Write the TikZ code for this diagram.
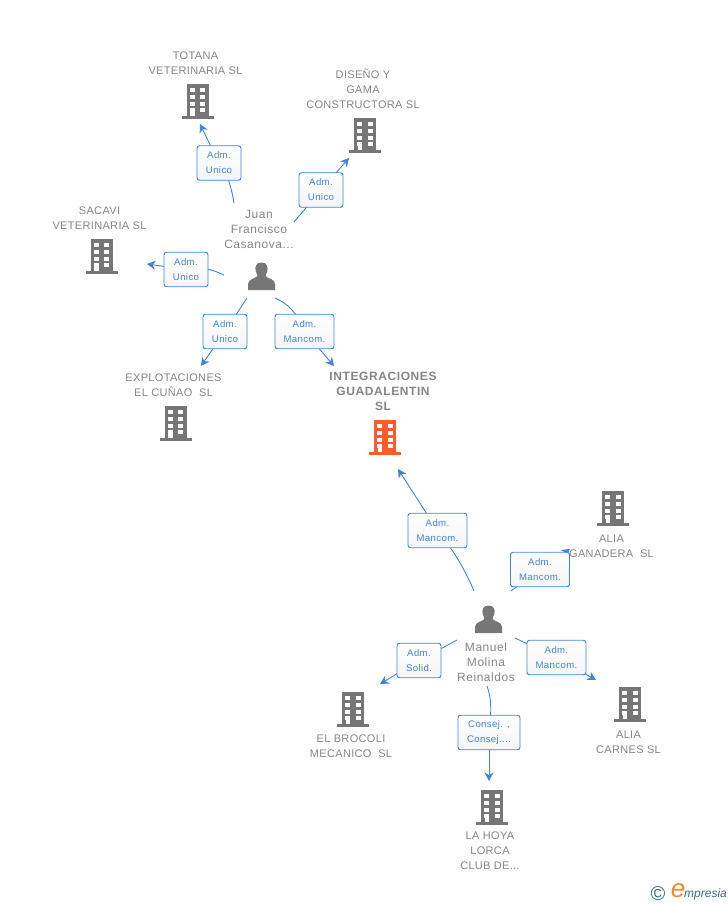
\documentclass[tikz,border=0pt]{standalone}
\usepackage{fontspec}
\setmainfont{Liberation Sans}
\usetikzlibrary{arrows.meta,backgrounds}
\definecolor{edgeblue}{HTML}{3F85DC}
\definecolor{txtgray}{HTML}{858585}
\definecolor{icongray}{HTML}{767676}
\definecolor{accent}{HTML}{FF5A2B}
\definecolor{logoteal}{HTML}{2F6F86}
\definecolor{logoorange}{HTML}{F08A24}
\tikzset{
  x=1pt,y=-1pt,
  lab/.style={draw=edgeblue,line width=0.95pt,rounded corners=2.5pt,top color=white,bottom color=white!96!black,
    text=edgeblue,font=\fontsize{9.6}{15}\selectfont\addfontfeatures{LetterSpace=4},align=center,minimum height=34.5pt,inner sep=0pt},
  labs/.style={lab,minimum width=44pt},
  labm/.style={lab,minimum width=59pt},
  labc/.style={lab,minimum width=62pt},
  edge/.style={edgeblue,line width=0.9pt},
  arr/.style={edge,-{Stealth[length=8.5pt,width=9pt]}},
  cname/.style={text=txtgray,font=\fontsize{11}{15}\selectfont\addfontfeatures{LetterSpace=3},align=center,inner sep=0pt},
  pname/.style={cname,font=\fontsize{12}{15}\selectfont\addfontfeatures{LetterSpace=4.5}},
  mainname/.style={cname,font=\fontsize{12}{15}\selectfont\bfseries\addfontfeatures{LetterSpace=5}},
  pics/bld/.style={code={
    \fill[#1] (-11,-17) rectangle (11,15);
    \fill[#1] (-16,15) rectangle (16,17.5);
    \foreach \yy in {-12.7,-6,0.7,7.3}{
      \fill[white] (-8,\yy) rectangle (-3,\yy+4);
      \fill[white] (2.5,\yy) rectangle (7.5,\yy+4);
    }
    \fill[white] (-7.5,7) rectangle (-3,15);
  }},
  pics/person/.style={code={
    \fill[icongray] (0,-14.5) .. controls (-5.5,-14.5) and (-6.8,-10) .. (-5.8,-6)
      .. controls (-5.2,-3) and (-4,-2.5) .. (-4,-1)
      .. controls (-6,1.5) and (-13.5,2) .. (-13.5,7) -- (-13.5,13) -- (13.5,13) -- (13.5,7)
      .. controls (13.5,2) and (6,1.5) .. (4,-1)
      .. controls (4,-2.5) and (5.2,-3) .. (5.8,-6)
      .. controls (6.8,-10) and (5.5,-14.5) .. (0,-14.5) -- cycle;
  }}
}
\begin{document}
\begin{tikzpicture}
\useasboundingbox (0,0) rectangle (728,905);
% people
\pic at (261.5,277) {person};
\pic at (488.5,620) {person};
\node[pname] (juan) at (259,229) {Juan\\Francisco\\Casanova...};
\node[pname] (manuel) at (486,662) {Manuel\\Molina\\Reinaldos};
% companies
\node[cname] (totana) at (195.5,63) {TOTANA\\VETERINARIA SL};
\pic at (197.5,101) {bld=icongray};
\node[cname] (diseno) at (363,89) {DISEÑO Y\\GAMA\\CONSTRUCTORA SL};
\pic at (365,135) {bld=icongray};
\node[cname] (sacavi) at (99.5,218) {SACAVI\\VETERINARIA SL};
\pic at (101.5,256) {bld=icongray};
\node[cname] (explo) at (173.5,385) {EXPLOTACIONES\\EL CUÑAO\ \ SL};
\pic at (175.5,423) {bld=icongray};
\node[mainname] (integ) at (383,391.5) {INTEGRACIONES\\GUADALENTIN\\SL};
\pic at (385,437) {bld=accent};
\node[cname] (galia) at (611.5,546) {ALIA\\GANADERA\ \ SL};
\pic at (613,508) {bld=icongray};
\node[cname] (broco) at (351,746) {EL BROCOLI\\MECANICO\ \ SL};
\pic at (353,709) {bld=icongray};
\node[cname] (carnes) at (628.5,742) {ALIA\\CARNES SL};
\pic at (630,704) {bld=icongray};
\node[cname] (hoya) at (490,851) {LA HOYA\\LORCA\\CLUB DE...};
\pic at (492,807) {bld=icongray};
% relation labels
\node[labs] (l1) at (219,163) {Adm.\\Unico};
\node[labs] (l2) at (321,190) {Adm.\\Unico};
\node[labs] (l3) at (186,269.5) {Adm.\\Unico};
\node[labs] (l4) at (225,331.5) {Adm.\\Unico};
\node[labm] (l5) at (304.5,331.5) {Adm.\\Mancom.};
\node[labm] (l6) at (437.5,530.5) {Adm.\\Mancom.};
\node[labm] (l7) at (540,569.5) {Adm.\\Mancom.};
\node[labs] (l8) at (419,660.5) {Adm.\\Solid.};
\node[labm] (l9) at (556.5,657.5) {Adm.\\Mancom.};
\node[labc] (l10) at (489,732.5) {Consej. ,\\Consej....};
% free connector ends
\coordinate (s1) at (234,203);   \coordinate (t1) at (200,124);
\coordinate (s2) at (294,222);   \coordinate (t2) at (349,158);
\coordinate (s3) at (224,275);   \coordinate (t3) at (147,264);
\coordinate (s4) at (247,298);   \coordinate (t4) at (201,366);
\coordinate (s5) at (275,298);   \coordinate (t5) at (334,366);
\coordinate (s6) at (474,591);   \coordinate (t6) at (398,469);
\coordinate (s7) at (511,591);   \coordinate (t7) at (570,549);
\coordinate (s8) at (457,640);   \coordinate (t8) at (380,684);
\coordinate (s9) at (515,638);   \coordinate (t9) at (596,680);
\coordinate (s10) at (487,686);  \coordinate (t10) at (489,781);
\begin{scope}[on background layer]
\draw[edge] (s1) .. controls (231,185) and (226,170) .. (l1.center);
\draw[arr] (l1.center) -- (t1);
\draw[edge] (s2) -- (l2.center);
\draw[arr] (l2.center) -- (t2);
\draw[edge] (s3) .. controls (215,271) and (205,266) .. (l3.center);
\draw[arr] (l3.center) -- (t3);
\draw[edge] (s4) -- (l4.center);
\draw[arr] (l4.center) -- (t4);
\draw[edge] (s5) .. controls (288,304) and (296,311) .. (l5.center);
\draw[arr] (l5.center) -- (t5);
\draw[edge] (s6) .. controls (466,572) and (455,552) .. (l6.center);
\draw[arr] (l6.center) -- (t6);
\draw[edge] (s7) -- (l7.center);
\draw[arr] (l7.center) -- (t7);
\draw[edge] (s8) -- (l8.center);
\draw[arr] (l8.center) -- (t8);
\draw[edge] (s9) -- (l9.center);
\draw[arr] (l9.center) -- (t9);
\draw[edge] (s10) .. controls (491,697) and (492,708) .. (l10.center);
\draw[arr] (l10.center) -- (t10);
\end{scope}
% logo
\node[inner sep=0pt,text=logoteal,font=\fontsize{20}{20}\selectfont] (copyr) at (658,894) {©};
\node[inner sep=0pt,text=logoorange,font=\fontsize{26}{26}\selectfont\itshape] (logoe) at (678,891) {e};
\node[inner sep=0pt,text=logoteal,font=\fontsize{12}{12}\selectfont\itshape,anchor=west] (logot) at (684,894.5) {mpresia};
\end{tikzpicture}
\end{document}
